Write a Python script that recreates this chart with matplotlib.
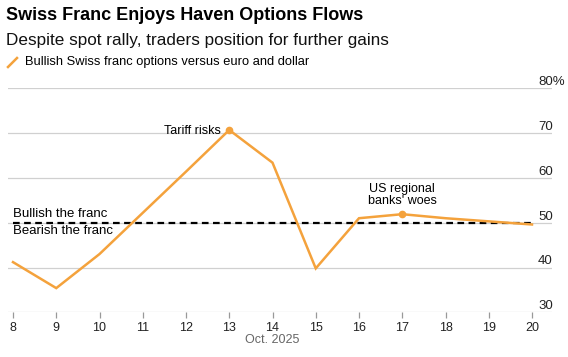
import matplotlib.pyplot as plt
from matplotlib.lines import Line2D
import matplotlib.transforms as mtransforms

plt.rcParams['font.family'] = ['Liberation Sans', 'DejaVu Sans']

days = [8, 9, 10, 11, 12, 13, 14, 15, 16, 17, 18, 19, 20]
bullish = [41.2, 35.4, 43.0, 52.2, 61.4, 70.7, 63.4, 39.8, 51.0, 51.9, 51.0, 50.3, 49.6]
y_ticks = [30, 40, 50, 60, 70, 80]
y_labels = ["30", "40", "50", "60", "70", "80%"]

W, H = 568, 357
orange = "#f4a23c"
grey = "#d0d0d0"

fig = plt.figure(figsize=(W / 100, H / 100), dpi=100)
ax = fig.add_axes([8 / W, 1 - 312.3 / H, (552 - 8) / W, (312.3 - 88.3) / H])
px = 12 / 519
ax.set_xlim(8 - 5 * px, 20 + 20 * px)
ax.set_ylim(30, 80)

for s in ax.spines.values():
    s.set_visible(False)
ax.set_yticks([])
for v in y_ticks:
    ax.axhline(v, color=grey, lw=0.9, zorder=0)

# y labels right side, above gridlines
lab_tr = mtransforms.blended_transform_factory(fig.transFigure, ax.transData)
for v, lab in zip(y_ticks, y_labels):
    ax.text(538 / W, v, lab, transform=lab_tr, ha="left", va="bottom",
            fontsize=9.5, color="#222222")

ax.set_xticks(days)
ax.set_xticklabels([str(d) for d in days], fontsize=9, color="#222222")
ax.tick_params(axis="x", length=4, width=0.9, color="#999999", pad=3)

# neutral line
ax.plot([days[0], days[-1]], [50, 50], color="black", lw=1.6, ls=(0, (3, 2)), zorder=2)
ax.text(days[0], 50.6, "Bullish the franc", ha="left", va="bottom", fontsize=9.5)
ax.text(days[0], 49.4, "Bearish the franc", ha="left", va="top", fontsize=9.5)

ax.plot(days, bullish, color=orange, lw=1.8, zorder=3, solid_joinstyle="miter")

# annotations
ax.plot([13, 17], [bullish[5], bullish[9]], "o", color=orange, ms=4.5, zorder=4)
ax.text(12.8, 70.5, "Tariff risks", ha="right", va="center", fontsize=9)
ax.text(17, 53.4, "US regional\nbanks' woes", ha="center", va="bottom", fontsize=9,
        linespacing=1.0)

fig.text(272 / W, 1 - 340 / H, "Oct. 2025", ha="center", va="center",
         fontsize=9, color="#666666")

# titles
fig.text(6 / W, 1 - 16 / H, "Swiss Franc Enjoys Haven Options Flows",
         fontsize=13, fontweight="bold", ha="left", va="center")
fig.text(6 / W, 1 - 40 / H, "Despite spot rally, traders position for further gains",
         fontsize=12.3, ha="left", va="center", color="#111111")
fig.add_artist(Line2D([8 / W, 17 / W], [1 - 67 / H, 1 - 58 / H], color=orange, lw=1.8,
                      transform=fig.transFigure))
fig.text(25 / W, 1 - 62 / H, "Bullish Swiss franc options versus euro and dollar",
         fontsize=9.3, ha="left", va="center")

fig.savefig("out.png", dpi=100)
